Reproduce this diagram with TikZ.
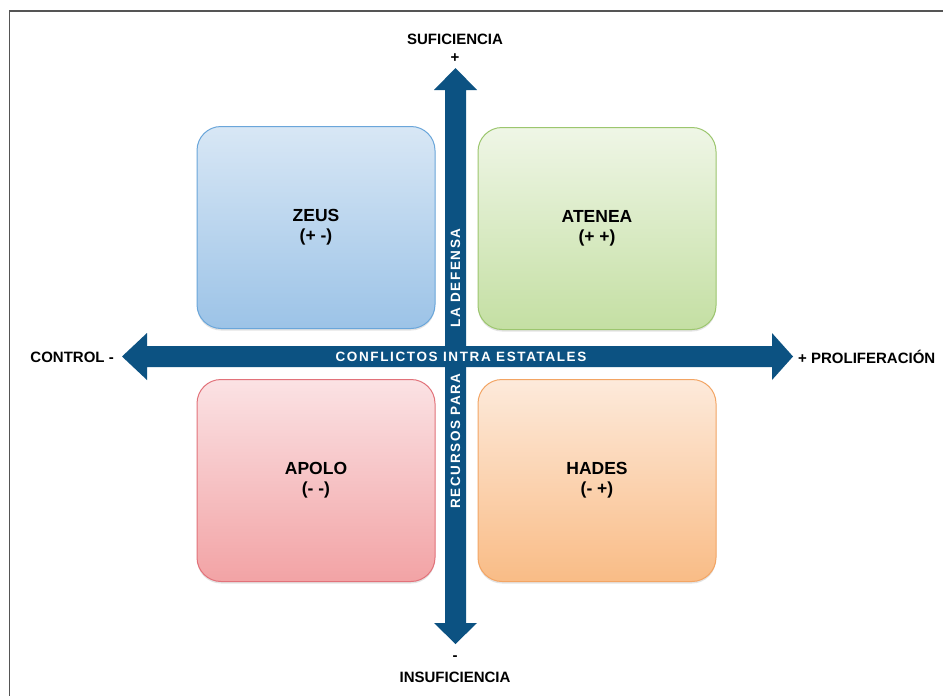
\documentclass[tikz,border=0pt]{standalone}
\usepackage{fontspec}
\setmainfont{Liberation Sans}
\usetikzlibrary{shadows}
\definecolor{axisblue}{HTML}{0C5282}
\definecolor{frameg}{HTML}{555555}
\definecolor{zeusT}{HTML}{D8E7F5}
\definecolor{zeusB}{HTML}{9CC3E7}
\definecolor{zeusD}{HTML}{6AA6DA}
\definecolor{ateT}{HTML}{EFF6E6}
\definecolor{ateB}{HTML}{C4DFA3}
\definecolor{ateD}{HTML}{9CC66E}
\definecolor{apoT}{HTML}{FBE2E4}
\definecolor{apoB}{HTML}{F2A3A5}
\definecolor{apoD}{HTML}{E2727A}
\definecolor{hadT}{HTML}{FDEADB}
\definecolor{hadB}{HTML}{F9BC86}
\definecolor{hadD}{HTML}{F3A564}
\tikzset{
  quad/.style={rounded corners=24pt, minimum width=238pt, minimum height=202pt,
    line width=1pt, align=center, font=\fontsize{17.5}{20}\selectfont\bfseries,
    drop shadow={opacity=0.22, shadow xshift=0pt, shadow yshift=-2pt}},
  outer/.style={font=\fontsize{15}{17}\selectfont\bfseries, inner sep=0pt},
  axistext/.style={text=white, inner sep=0pt,
    font=\fontsize{13.5}{15}\selectfont\bfseries\addfontfeature{LetterSpace=12}},
}
\begin{document}
\begin{tikzpicture}[x=1pt,y=-1pt]
\useasboundingbox (0,0) rectangle (943,696);
\fill[white] (0,0) rectangle (943,696);
% frame
\draw[frameg, line width=1.8pt] (9.5,697) -- (9.5,11) -- (944,11);

% quadrants
\node[quad, draw=zeusD, top color=zeusT, bottom color=zeusB] (zeus) at (316,227.5) {ZEUS\\(+ -)};
\node[quad, draw=ateD, top color=ateT, bottom color=ateB] (atenea) at (597,228.5) {ATENEA\\(+ +)};
\node[quad, draw=apoD, top color=apoT, bottom color=apoB] (apolo) at (316,480.5) {APOLO\\(- -)};
\node[quad, draw=hadD, top color=hadT, bottom color=hadB] (hades) at (597,480.5) {HADES\\(- +)};

% axes
\coordinate (ntip) at (455.5,68);
\coordinate (stip) at (455.5,644);
\coordinate (wtip) at (122,356.5);
\coordinate (etip) at (793,356.5);
\fill[axisblue] (445,90) -- (434,90) -- (ntip) -- (477,90) -- (466,90) -- (466,623)
  -- (477,623) -- (stip) -- (434,623) -- (445,623) -- cycle;
\fill[axisblue] (147,346) -- (147,333) -- (wtip) -- (147,380) -- (147,367) -- (772,367)
  -- (772,380) -- (etip) -- (772,333) -- (772,346) -- cycle;

% axis texts
\node[axistext] (conf) at (461,356.5) {CONFLICTOS INTRA ESTATALES};
\node[axistext, rotate=90] (recursos) at (455.5,441) {RECURSOS PARA};
\node[axistext, rotate=90] (defensa) at (455.5,278) {LA DEFENSA};

% outer labels
\node[outer] (suf) at (455,39) {SUFICIENCIA};
\node[outer] (plus) at (455,58) {+};
\node[outer] (minus) at (455,658) {-};
\node[outer] (insuf) at (455,677) {INSUFICIENCIA};
\node[outer, anchor=east] (control) at (114,357) {CONTROL -};
\node[outer, anchor=west] (prolif) at (798,357) {+ PROLIFERACIÓN};
\end{tikzpicture}
\end{document}
